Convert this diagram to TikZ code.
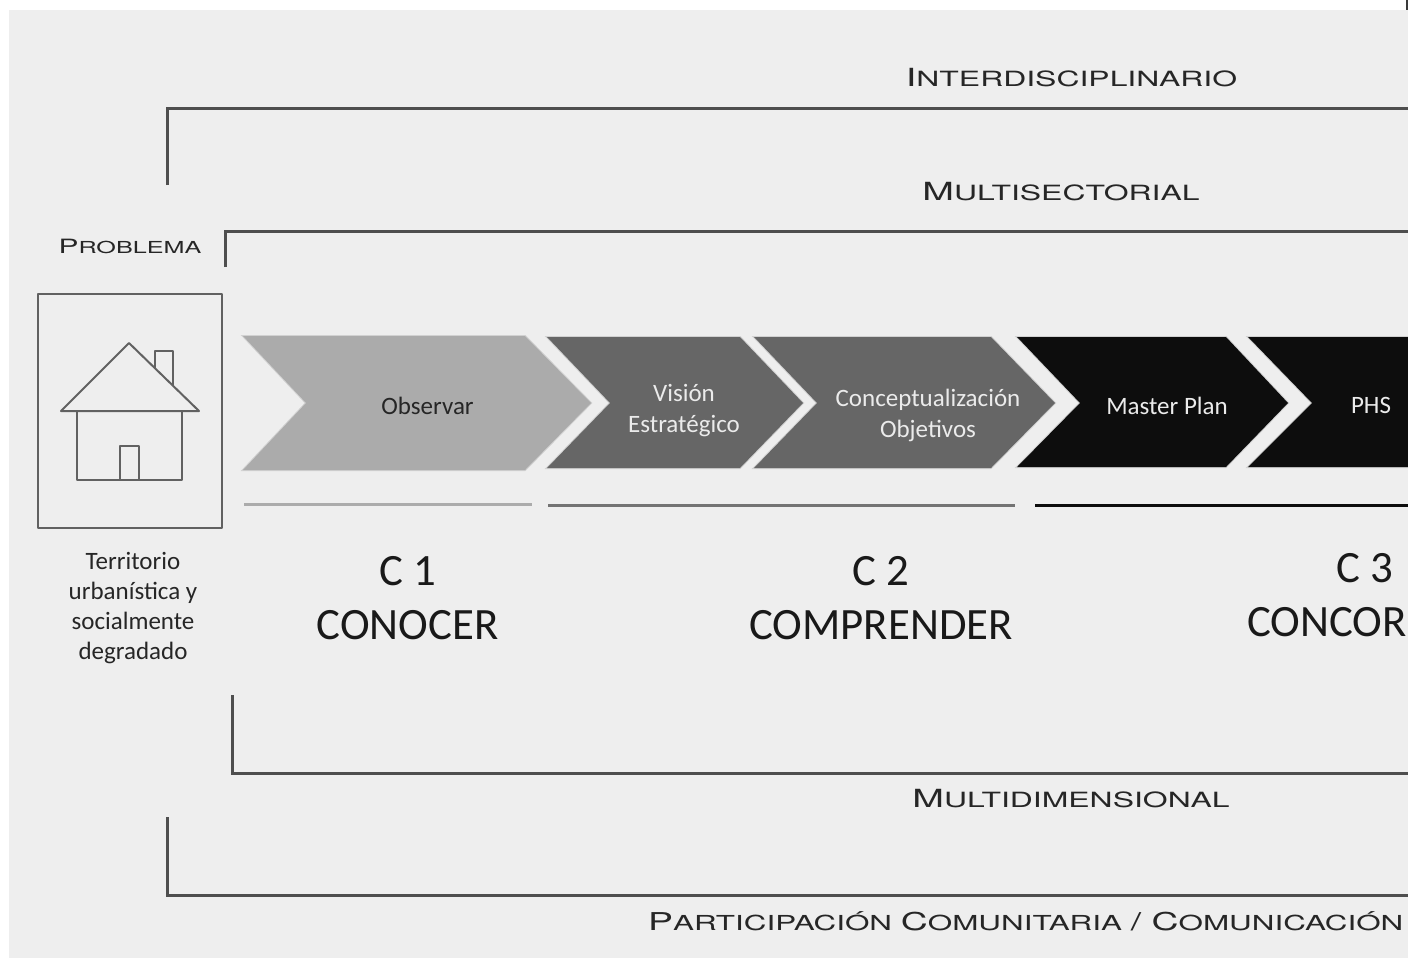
\documentclass[tikz,border=0pt]{standalone}
\usepackage{fontspec}
\setmainfont{Carlito}
\newfontfamily\wide[FakeStretch=1.52]{TeX Gyre Heros}
\newcommand{\sz}[2]{\fontsize{#1}{#2}\selectfont}
\newcommand{\caph}[3]{{\wide\sz{#1}{#1}#2\sz{\dimexpr #1pt*21/25\relax}{#1}#3}}
\definecolor{bgc}{HTML}{EEEEEE}
\definecolor{ink}{HTML}{3A3A3A}
\definecolor{lightc}{HTML}{ABABAB}
\definecolor{midc}{HTML}{666666}
\definecolor{blackc}{HTML}{0D0D0D}
\tikzset{
  x=1pt,y=-1pt,
  bracket/.style={draw=ink!90,line width=3pt},
  boxline/.style={draw=ink!80,line width=2pt,line join=round},
  halo/.style={draw=black,draw opacity=.12,line width=2pt,line join=miter},
  lbl/.style={inner sep=0pt,align=center,text=#1,font=\sz{25}{31}},
  lbl/.default=black,
  body/.style={inner sep=0pt,align=center,text=black!85,font=\sz{25}{30.2}},
  big/.style={inner sep=0pt,align=center,text=black!90,font=\sz{44.8}{54}},
  head/.style={inner sep=0pt,text=black!85}
}
\begin{document}
\begin{tikzpicture}
\useasboundingbox (0,0) rectangle (1408,958);
\fill[white] (0,0) rectangle (1408,958);
\fill[bgc] (9,10) rectangle (1408,958);
\draw[ink,line width=1.5pt] (1407,0) -- (1407,10);

% brackets
\coordinate (a1) at (167,185); \coordinate (a2) at (167,108); \coordinate (a3) at (1408,108);
\coordinate (b1) at (225,267); \coordinate (b2) at (225,231); \coordinate (b3) at (1408,231);
\coordinate (c1) at (232,695); \coordinate (c2) at (232,773); \coordinate (c3) at (1408,773);
\coordinate (d1) at (167,817); \coordinate (d2) at (167,895); \coordinate (d3) at (1408,895);
\draw[bracket] (a1) -- (a2) -- (a3);
\draw[bracket] (b1) -- (b2) -- (b3);
\draw[bracket] (c1) -- (c2) -- (c3);
\draw[bracket] (d1) -- (d2) -- (d3);

% headings
\node[head] (tInter) at (1071.5,78) {\caph{25}{I}{NTERDISCIPLINARIO}};
\node[head] (tMulti) at (1061,192) {\caph{25}{M}{ULTISECTORIAL}};
\node[head] (tProb) at (130,246) {\caph{19.7}{P}{ROBLEMA}};
\node[head] (tDim) at (1071,799) {\caph{25}{M}{ULTIDIMENSIONAL}};
\node[head,anchor=west] (tPart) at (648,921) {\caph{24.6}{P}{ARTICIPACIÓN }\caph{24.6}{C}{OMUNITARIA }{\wide\sz{24.6}{25}/ }\caph{24.6}{C}{OMUNICACIÓN}};

% house
\draw[boxline] (38,294) rectangle (222,528);
\draw[boxline] (155,368) -- (155,351) -- (173,351) -- (173,386);
\draw[boxline] (61,411) -- (129,343) -- (199,411) -- cycle;
\draw[boxline] (77,411) -- (77,480) -- (182,480) -- (182,411);
\draw[boxline] (120,480) -- (120,446) -- (139,446) -- (139,480);

% chevrons
\path[halo] (243,336) -- (525,336) -- (591,403) -- (525,470) -- (243,470) -- (306,403) -- cycle;
\fill[lightc] (243,336) -- (525,336) -- (591,403) -- (525,470) -- (243,470) -- (306,403) -- cycle;
\path[halo] (547,337) -- (740,337) -- (803,403) -- (740,468) -- (547,468) -- (610,403) -- cycle;
\fill[midc] (547,337) -- (740,337) -- (803,403) -- (740,468) -- (547,468) -- (610,403) -- cycle;
\path[halo] (754,337) -- (991,337) -- (1055,403) -- (991,468) -- (754,468) -- (817,403) -- cycle;
\fill[midc] (754,337) -- (991,337) -- (1055,403) -- (991,468) -- (754,468) -- (817,403) -- cycle;
\path[halo] (1017,337) -- (1226,337) -- (1288,403) -- (1226,467) -- (1017,467) -- (1080,403) -- cycle;
\fill[blackc] (1017,337) -- (1226,337) -- (1288,403) -- (1226,467) -- (1017,467) -- (1080,403) -- cycle;
\path[halo] (1408,337) -- (1248,337) -- (1312,403) -- (1248,467) -- (1408,467);
\fill[blackc] (1408,337) -- (1248,337) -- (1312,403) -- (1248,467) -- (1408,467) -- cycle;

\node[lbl=black!85] (nObs) at (427.5,405.5) {Observar};
\node[lbl=white!92!black] (nVis) at (684,410.5) {Visión\\Estratégico};
\node[lbl=white!92!black] (nCon) at (928,415) {Conceptualización\\Objetivos};
\node[lbl=white!92!black] (nMas) at (1167,405.5) {Master Plan};
\node[lbl=white!92!black] (nPhs) at (1371,405.5) {PHS};

% rules
\coordinate (r1a) at (244,504); \coordinate (r1b) at (532,504);
\coordinate (r2a) at (548,505); \coordinate (r2b) at (1015,505);
\coordinate (r3a) at (1035,505); \coordinate (r3b) at (1408,505);
\draw[lightc,line width=3pt] (r1a) -- (r1b);
\draw[black!55,line width=3pt] (r2a) -- (r2b);
\draw[blackc,line width=3pt] (r3a) -- (r3b);

% captions
\node[body] (nTer) at (133,608) {Territorio\\urbanística y\\socialmente\\degradado};
\node[big] (nC1) at (407.5,598) {C 1\\CONOCER};
\node[big] (nC2) at (881,598) {C 2\\COMPRENDER};
\node[big] (nC3a) at (1365,568) {C 3};
\node[big,anchor=west] (nC3b) at (1247,622) {CONCOR};
\end{tikzpicture}
\end{document}
